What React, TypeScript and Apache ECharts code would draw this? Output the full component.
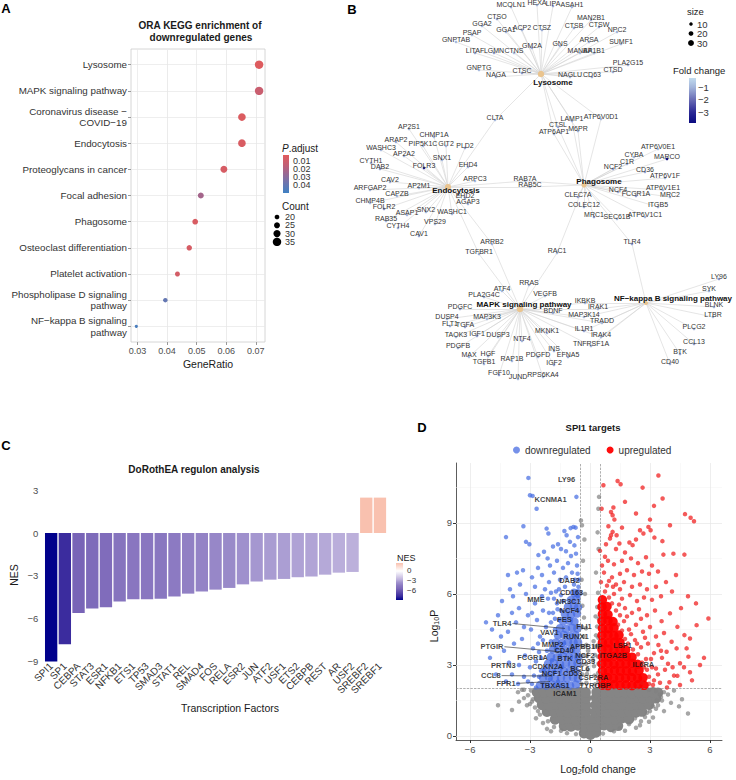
import React, { useEffect, useRef } from 'react';
import * as echarts from 'echarts';

const FONT = '"Liberation Sans", Arial, Helvetica, sans-serif';
const minus = (v: number) => (v < 0 ? '\u2212' + Math.abs(v) : String(v));

/* ---------------- A: KEGG over-representation of downregulated genes ---------------- */
const keggTerms = [
  'Lysosome',
  'MAPK signaling pathway',
  'Coronavirus disease \u2212\nCOVID\u221219',
  'Endocytosis',
  'Proteoglycans in cancer',
  'Focal adhesion',
  'Phagosome',
  'Osteoclast differentiation',
  'Platelet activation',
  'Phospholipase D signaling\npathway',
  'NF\u2212kappa B signaling\npathway',
];
const keggGeneRatio = [0.0711, 0.0711, 0.0653, 0.0653, 0.0592, 0.0514, 0.0495, 0.0475, 0.0435, 0.0394, 0.0296];
const keggCount = [35, 35, 32, 32, 29, 25, 24, 23, 21, 19, 14];
const keggPAdjust = [0.004, 0.012, 0.005, 0.006, 0.007, 0.023, 0.006, 0.007, 0.008, 0.04, 0.047];
const geneRatioTicks = [0.03, 0.04, 0.05, 0.06, 0.07];
const geneRatioMinor = [0.035, 0.045, 0.055, 0.065];
const padjTicks = [0.01, 0.02, 0.03, 0.04];
const countTicks = [20, 25, 30, 35];
const padjRange: [number, number] = [0.0025, 0.05];
const padjStops: [number, string][] = [
  [0.0025, '#E15B5B'], [0.015, '#C25F75'], [0.025, '#9C6790'], [0.035, '#7672A9'], [0.05, '#3F81C3'],
];

/* ---------------- B: gene-concept network ---------------- */
type GeneRow = [string, number, number, number]; // name, layout x, layout y, log2 fold change
const hubNames = ['Lysosome', 'Endocytosis', 'Phagosome', 'MAPK signaling pathway', 'NF\u2212kappa B signaling pathway'];
const hubTerm = [0, 3, 6, 1, 10];
const hubLayout: [number, number][] = [[541, 74], [448, 187], [584, 185], [520, 309], [646, 303]];
const hubLabelShift: [number, number][] = [[12, 8], [8, 3], [15, -4], [4, -5], [27, -5]];
const sizeTicks = [10, 20, 30];
const foldTicks = [-1, -2, -3];
const foldRange: [number, number] = [-0.28, -3.88];
const foldStops: [number, string][] = [
  [-3.88, '#0A0A80'], [-3, '#2C2A96'], [-2, '#6A6DB5'], [-1, '#A4B6DB'], [-0.28, '#C2DBEE'],
];

const lysosomeGenes: GeneRow[] = [
  ['MCOLN1', 511, 7, -1.1], ['HEXA', 537, 5, -1.0], ['LIPA', 553, 6, -1.2], ['ASAH1', 572, 7, -1.0],
  ['CTSO', 497, 19, -1.3], ['GGA2', 482, 26, -0.9], ['GGA1', 506, 32, -0.9], ['ACP2', 522, 30, -1.0],
  ['CTSZ', 542, 30, -1.1], ['CTSB', 574, 28, -1.2], ['MAN2B1', 591, 20, -1.0], ['CTSW', 599, 27, -1.3],
  ['NPC2', 617, 32, -1.0], ['PSAP', 472, 35, -0.9], ['GNPTAB', 456, 42, -0.9], ['ARSA', 589, 42, -1.0],
  ['SUMF1', 621, 44, -1.0], ['GNS', 560, 46, -1.0], ['GM2A', 532, 48, -1.1], ['LITAF', 475, 53, -1.2],
  ['LGMN', 494, 53, -1.3], ['CTNS', 514, 53, -0.9], ['MANBA', 580, 53, -0.9], ['AP1B1', 594, 53, -0.9],
  ['PLA2G15', 628, 65, -1.0], ['CTSD', 613, 72, -1.1], ['GNPTG', 479, 70, -0.9], ['NAGA', 496, 77, -1.0],
  ['CTSC', 522, 73, -1.4], ['NAGLU', 570, 77, -0.9], ['CD63', 592, 77, -1.1],
];
const endocytosisGenes: GeneRow[] = [
  ['AP2S1', 409, 129, -1.0], ['CHMP1A', 434, 137, -0.9], ['ARAP2', 396, 142, -1.1], ['PIP5K1C', 423, 146, -0.9],
  ['GIT2', 446, 146, -1.0], ['PLD2', 465, 148, -1.2], ['WASHC3', 381, 150, -0.9], ['AP2A2', 404, 156, -1.0],
  ['SNX1', 442, 160, -0.9], ['CYTH1', 371, 163, -1.1], ['FOLR3', 424, 168, -3.4], ['EHD4', 468, 167, -1.0],
  ['DAB2', 380, 169, -1.3], ['CAV2', 390, 182, -1.0], ['ARPC3', 475, 181, -0.9], ['AP2M1', 419, 188, -0.9],
  ['ARFGAP2', 370, 190, -0.9], ['CAPZB', 397, 196, -0.9], ['EHD2', 465, 198, -1.1], ['CHMP4B', 370, 203, -0.9],
  ['AGAP3', 468, 204, -1.0], ['FOLR2', 384, 209, -1.4], ['SNX2', 426, 212, -0.9], ['ASAP1', 407, 215, -1.0],
  ['WASHC1', 452, 214, -0.9], ['RAB35', 386, 221, -0.9], ['VPS29', 435, 224, -0.9], ['CYTH4', 398, 228, -1.1],
  ['CAV1', 419, 236, -1.2],
];
const phagosomeGenes: GeneRow[] = [
  ['ATP6V0E1', 658, 149, -0.9], ['CYBA', 634, 157, -1.0], ['MARCO', 667, 159, -3.7], ['C1R', 627, 164, -1.1],
  ['NCF2', 613, 169, -1.2], ['CD36', 645, 172, -1.2], ['ATP6V1F', 665, 178, -0.9], ['NCF4', 618, 192, -1.1],
  ['ATP6V1E1', 663, 190, -0.9], ['FCGR1A', 636, 196, -1.3], ['MRC2', 670, 197, -1.0], ['CLEC7A', 578, 197, -1.2],
  ['COLEC12', 584, 207, -1.1], ['ITGB5', 658, 207, -1.0], ['MRC1', 594, 217, -1.3], ['SEC61B', 617, 219, -0.9],
  ['ATP6V1C1', 645, 217, -0.9],
];
const mapkGenes: GeneRow[] = [
  ['RRAS', 529, 285, -1.0], ['ATF4', 502, 291, -0.9], ['VEGFB', 545, 296, -0.9], ['PLA2G4C', 484, 297, -1.1],
  ['PDGFC', 460, 309, -1.2], ['BDNF', 553, 313, -1.1], ['DUSP4', 447, 319, -1.0], ['MAP3K3', 487, 319, -0.9],
  ['FLT1', 450, 326, -1.1], ['TGFA', 465, 327, -1.2], ['TAOK3', 456, 337, -0.9], ['IGF1', 477, 336, -1.3],
  ['DUSP3', 498, 337, -0.9], ['MKNK1', 547, 333, -1.0], ['NTF4', 522, 341, -1.0], ['PDGFB', 458, 348, -1.1],
  ['INS', 554, 351, -1.0], ['MAX', 469, 357, -0.9], ['HGF', 488, 356, -1.2], ['RAP1B', 512, 361, -0.9],
  ['PDGFD', 538, 357, -1.1], ['EFNA5', 568, 357, -1.2], ['TGFB1', 484, 364, -1.0], ['IGF2', 554, 365, -1.1],
  ['FGF10', 499, 375, -1.3], ['JUND', 518, 379, -0.9], ['RPS6KA4', 543, 377, -0.9],
];
const nfkbGenes: GeneRow[] = [
  ['LY96', 719, 279, -1.4], ['SYK', 709, 291, -1.0], ['BLNK', 714, 307, -1.1], ['LTBR', 713, 317, -0.9],
  ['PLCG2', 694, 329, -1.0], ['CCL13', 694, 344, -1.3], ['BTK', 680, 354, -1.2], ['CD40', 670, 364, -1.1],
];
const lysoEndoGenes: GeneRow[] = [['CLTA', 495, 120, -0.9]];
const lysoPhagoGenes: GeneRow[] = [
  ['LAMP1', 572, 121, -1.0], ['ATP6V0D1', 601, 119, -0.9], ['CTSL', 558, 127, -1.2], ['M6PR', 578, 131, -1.0],
  ['ATP6AP1', 554, 134, -0.9],
];
const endoPhagoGenes: GeneRow[] = [['RAB7A', 525, 181, -0.9], ['RAB5C', 530, 187, -0.9]];
const endoMapkGenes: GeneRow[] = [['ARRB2', 492, 244, -1.0], ['TGFBR1', 479, 254, -1.1]];
const phagoMapkGenes: GeneRow[] = [['RAC1', 557, 253, -0.9]];
const phagoNfkbGenes: GeneRow[] = [['TLR4', 632, 244, -1.3]];
const mapkNfkbGenes: GeneRow[] = [
  ['IKBKB', 585, 303, -0.9], ['IRAK1', 598, 309, -1.0], ['MAP3K14', 584, 317, -0.9], ['TRADD', 602, 323, -0.9],
  ['IL1R1', 584, 331, -1.2], ['IRAK4', 601, 337, -1.0], ['TNFRSF1A', 591, 346, -1.0],
];

/* ---------------- C: DoRothEA regulon activity ---------------- */
const tfNames = [
  'SPI1', 'SP1', 'CEBPA', 'STAT3', 'ESR1', 'NFKB1', 'ETS1', 'TP53', 'SMAD3', 'STAT1', 'REL', 'SMAD4', 'FOS',
  'RELA', 'ESR2', 'JUN', 'ATF2', 'USF1', 'ETS2', 'CEBPB', 'REST', 'AR', 'USF2', 'SREBF2', 'SREBF1',
];
const tfNES = [
  -9.0, -7.8, -5.6, -5.3, -5.2, -4.8, -4.65, -4.65, -4.6, -4.45, -4.25, -4.1, -3.97, -3.85, -3.6, -3.4, -3.27,
  -3.22, -3.1, -3.05, -2.92, -2.78, -2.73, 2.48, 2.48,
];
const nesTicks = [0, -3, -6];
const nesRange: [number, number] = [2.48, -9];
const nesStops: [number, string][] = [
  [-9, '#00008B'], [-7.8, '#3B2C9E'], [-5.5, '#7B67B8'], [-4.5, '#8B79C1'], [-3.5, '#A193CE'],
  [-2.7, '#BDB1DC'], [0, '#FFFFFF'], [2.5, '#F9C0AE'],
];

/* ---------------- D: volcano of SPI1 targets ---------------- */
const fcCut = 0.5;
const pCut = 2;
const volcanoXTicks = [-6, -3, 0, 3, 6];
const volcanoXMinor = [-4.5, -1.5, 1.5, 4.5];
const volcanoYTicks = [0, 3, 6, 9];
const volcanoYMinor = [1.5, 4.5, 7.5, 10.5];

const greyCore: [number, number][] = [
  [-0.3, 0.12], [0.02, 0.05], [0.3, 0.15],
  [-1.3, 0.42], [-0.95, 0.4], [-0.6, 0.44], [-0.28, 0.38], [0.05, 0.42], [0.38, 0.4], [0.7, 0.45], [1.05, 0.38], [1.4, 0.43],
  [-1.75, 0.7], [-1.4, 0.7], [-1.05, 0.73], [-0.7, 0.68], [-0.38, 0.72], [-0.15, 0.7], [0.22, 0.74], [0.55, 0.69], [0.9, 0.72], [1.25, 0.7], [1.6, 0.75], [1.95, 0.71],
  [-2.15, 1.02], [-1.8, 1.0], [-1.45, 1.03], [-1.1, 0.98], [-0.75, 1.02], [-0.42, 0.99], [-0.18, 1.04], [0.25, 1.0], [0.55, 1.03], [0.9, 0.98], [1.25, 1.02], [1.6, 1.0], [1.95, 1.04], [2.3, 0.99], [2.6, 1.03],
  [-2.4, 1.31], [-2.05, 1.3], [-1.7, 1.33], [-1.35, 1.28], [-1.0, 1.32], [-0.65, 1.29], [-0.38, 1.33], [-0.2, 1.3], [0.28, 1.31], [0.6, 1.28], [0.95, 1.33], [1.3, 1.3], [1.65, 1.32], [2.0, 1.28], [2.3, 1.33], [2.65, 1.3], [2.95, 1.32],
  [-2.55, 1.61], [-2.2, 1.6], [-1.85, 1.63], [-1.5, 1.58], [-1.15, 1.62], [-0.8, 1.59], [-0.45, 1.63], [-0.2, 1.6], [0.3, 1.61], [0.65, 1.58], [1.0, 1.63], [1.35, 1.6], [1.7, 1.62], [2.05, 1.58], [2.4, 1.63], [2.65, 1.6], [3.0, 1.62], [3.3, 1.59],
  [-2.65, 1.84], [-2.3, 1.84], [-1.95, 1.86], [-1.6, 1.82], [-1.25, 1.85], [-0.9, 1.83], [-0.55, 1.86], [-0.22, 1.84], [0.33, 1.85], [0.7, 1.83], [1.05, 1.86], [1.4, 1.84], [1.75, 1.85], [2.1, 1.82], [2.45, 1.86], [2.8, 1.84], [3.15, 1.85], [3.4, 1.83],
];
const greySparse: [number, number][] = [
  [-2.95, 1.92], [-2.85, 1.55], [-2.75, 1.2], [-2.5, 0.9], [-2.1, 0.62], [-1.8, 0.38], [-1.45, 0.22], [-1.15, 0.12],
  [-0.7, 0.08], [0.65, 0.1], [1.2, 0.2], [1.5, 0.32], [1.95, 0.5], [2.25, 0.75], [2.85, 0.98], [3.15, 1.25],
  [3.35, 1.5], [3.7, 1.85], [3.55, 1.65], [3.4, 1.3], [3.0, 1.05], [2.75, 0.8], [-3.1, 1.72], [-3.3, 1.95],
  [-3.0, 1.35], [-2.6, 1.05], [-3.3, 1.6], [-3.6, 1.85], [-4.6, 1.3], [-3.9, 1.1], [3.6, 1.5], [3.9, 1.75],
  [4.2, 1.92], [4.6, 1.55], [4.45, 1.25], [4.9, 0.95], [3.3, 1.15], [3.15, 0.78], [3.7, 1.05], [-2.15, 0.3],
  [2.5, 0.45], [-3.15, 1.3], [2.3, 0.35], [-1.95, 0.2], [1.75, 0.22], [3.5, 1.75], [-3.4, 1.95], [2.95, 1.95],
  [3.3, 1.9], [-2.9, 1.45], [-2.35, 0.55], [2.55, 0.62], [-2.7, 0.75], [2.95, 0.6], [4.05, 1.4], [-3.55, 1.45],
  [-0.42, 2.2], [-0.18, 2.25], [0.25, 2.18], [0.42, 2.3], [-0.38, 2.6], [-0.15, 2.62], [0.22, 2.55], [0.4, 2.65],
  [-0.4, 3.0], [-0.2, 3.05], [0.2, 2.95], [0.42, 3.05], [-0.35, 3.4], [-0.15, 3.38], [0.25, 3.42], [0.4, 3.35],
  [-0.4, 3.8], [-0.18, 3.85], [0.22, 3.78], [0.38, 3.82], [-0.32, 4.2], [0.3, 4.25], [0.42, 4.15], [-0.4, 4.6],
  [-0.2, 4.55], [0.35, 4.62], [-0.3, 5.0], [0.28, 5.05], [0.44, 4.95], [-0.38, 5.5], [0.36, 5.45], [-0.25, 6.0],
  [0.4, 6.05], [-0.42, 6.6], [0.3, 6.9], [-0.35, 7.4], [0.43, 7.9], [-0.28, 8.3], [0.38, 8.6], [-0.45, 9.1],
  [0.45, 10.1], [0.42, 9.6], [-0.4, 8.9], [-0.12, 2.8], [0.15, 3.2], [-0.1, 3.6], [0.18, 4.0],
];
const blueCore: [number, number][] = [
  [-2.5, 2.15], [-2.2, 2.13], [-1.9, 2.17], [-1.6, 2.14], [-1.3, 2.16], [-1.0, 2.13], [-0.7, 2.17],
  [-2.35, 2.45], [-2.05, 2.47], [-1.75, 2.43], [-1.45, 2.46], [-1.15, 2.44], [-0.85, 2.47], [-0.6, 2.43],
  [-2.2, 2.75], [-1.9, 2.73], [-1.6, 2.77], [-1.3, 2.74], [-1.0, 2.76], [-0.72, 2.73],
  [-2.1, 3.05], [-1.8, 3.07], [-1.5, 3.03], [-1.2, 3.06], [-0.9, 3.04], [-0.62, 3.07],
  [-1.95, 3.35], [-1.65, 3.33], [-1.35, 3.37], [-1.05, 3.34], [-0.78, 3.36], [-0.58, 3.33],
  [-1.85, 3.65], [-1.55, 3.67], [-1.25, 3.63], [-0.95, 3.66], [-0.68, 3.64],
  [-1.7, 3.95], [-1.4, 3.93], [-1.1, 3.97], [-0.82, 3.94], [-0.6, 3.96],
  [-1.6, 4.25], [-1.3, 4.27], [-1.0, 4.23], [-0.72, 4.26],
  [-1.5, 4.55], [-1.2, 4.53], [-0.9, 4.57], [-0.63, 4.54],
  [-1.35, 4.85], [-1.05, 4.87], [-0.78, 4.83],
  [-1.25, 5.15], [-0.95, 5.13], [-0.65, 5.17],
  [-1.1, 5.45], [-0.8, 5.47], [-0.6, 5.43],
  [-0.95, 5.75], [-0.68, 5.77], [-0.8, 6.05], [-0.6, 6.03],
];
const blueSparse: [number, number][] = [
  [-3.08, 10.9], [-3.0, 10.17], [-2.87, 10.14], [-2.67, 9.6], [-0.68, 10.1], [-3.33, 8.86], [-4.2, 8.4],
  [-3.2, 8.2], [-3.03, 8.1], [-2.17, 8.76], [-2.08, 8.55], [-1.28, 8.66], [-1.17, 8.48], [-0.97, 8.78],
  [-0.83, 8.83], [-0.72, 8.8], [-2.58, 7.64], [-2.3, 7.78], [-2.12, 7.5], [-1.6, 8.1], [-1.45, 7.9],
  [-1.85, 8.0], [-1.0, 8.2], [-0.78, 8.05], [-0.6, 8.4],
  [-4.1, 6.8], [-3.65, 6.9], [-4.0, 6.2], [-3.85, 5.9], [-3.5, 6.4], [-3.2, 6.0], [-3.35, 7.0], [-2.9, 6.7],
  [-2.75, 6.3], [-2.6, 7.1], [-2.4, 6.8], [-2.25, 6.2], [-2.0, 7.2], [-1.8, 6.9], [-1.65, 7.4], [-1.5, 6.6],
  [-1.35, 7.1], [-1.1, 7.3], [-0.9, 6.9], [-0.65, 7.2], [-0.55, 6.6], [-1.25, 6.3], [-0.8, 6.4], [-2.05, 6.5],
  [-1.7, 6.1], [-0.95, 7.6], [-0.7, 7.7], [-1.2, 7.8],
  [-5.2, 4.8], [-4.9, 4.5], [-4.6, 5.1], [-4.45, 4.2], [-5.0, 3.3], [-4.3, 3.6], [-4.7, 2.6], [-4.05, 3.1],
  [-3.9, 2.6], [-3.7, 4.8], [-3.55, 5.4], [-3.4, 4.1], [-3.25, 3.4], [-3.1, 5.1], [-3.0, 2.9], [-2.95, 4.5],
  [-2.85, 3.7], [-2.75, 5.6], [-2.65, 4.9], [-2.55, 2.5], [-2.5, 4.2], [-2.45, 3.3], [-2.35, 5.3], [-2.3, 2.8],
  [-2.2, 4.6], [-2.15, 3.6], [-2.1, 5.8], [-2.0, 2.4], [-1.95, 4.0], [-1.9, 3.2], [-1.85, 5.2], [-1.8, 2.7],
  [-1.75, 4.5], [-1.7, 3.7], [-1.65, 5.6], [-1.6, 2.3], [-1.55, 4.9], [-1.5, 3.4], [-1.45, 5.3], [-1.4, 2.9],
  [-1.35, 5.7], [-1.3, 3.9], [-3.6, 2.2], [-3.3, 2.5], [-2.9, 2.2], [-2.7, 2.05], [-3.8, 3.9], [-4.2, 2.3],
  [-4.4, 5.7], [-3.9, 5.2], [-0.58, 6.3], [-0.62, 5.9],
  [-2.6, 3.9], [-2.35, 4.05], [-2.7, 3.15], [-2.8, 2.55], [-3.1, 2.3], [-2.45, 2.75], [-2.55, 3.55],
  [-1.95, 4.8], [-2.05, 5.2], [-1.8, 5.8], [-1.55, 6.2], [-1.45, 5.95], [-1.2, 6.7], [-0.75, 6.6],
  [-0.62, 6.85], [-1.95, 6.05], [-2.4, 5.9], [-2.9, 5.2], [-3.3, 4.6], [-3.55, 3.0], [-4.1, 4.4],
  [-1.62, 5.35], [-1.75, 4.95],
];
const redCore: [number, number][] = [
  [0.62, 2.15], [0.9, 2.13], [1.2, 2.17], [1.5, 2.14], [1.8, 2.16], [2.1, 2.13], [2.4, 2.17], [2.7, 2.14],
  [0.6, 2.45], [0.88, 2.47], [1.18, 2.43], [1.48, 2.46], [1.78, 2.44], [2.08, 2.47], [2.38, 2.43], [2.65, 2.46],
  [0.62, 2.75], [0.92, 2.73], [1.22, 2.77], [1.52, 2.74], [1.82, 2.76], [2.12, 2.73], [2.45, 2.77],
  [0.6, 3.05], [0.9, 3.07], [1.2, 3.03], [1.5, 3.06], [1.8, 3.04], [2.1, 3.07], [2.38, 3.03],
  [0.62, 3.35], [0.92, 3.33], [1.22, 3.37], [1.52, 3.34], [1.82, 3.36], [2.1, 3.33],
  [0.6, 3.65], [0.9, 3.67], [1.2, 3.63], [1.5, 3.66], [1.78, 3.64],
  [0.62, 3.95], [0.92, 3.93], [1.22, 3.97], [1.5, 3.94],
  [0.6, 4.25], [0.9, 4.27], [1.2, 4.23], [1.45, 4.26],
  [0.62, 4.55], [0.92, 4.53], [1.2, 4.57],
  [0.6, 4.85], [0.9, 4.87], [1.15, 4.83],
  [0.62, 5.15], [0.9, 5.13], [0.6, 5.45], [0.85, 5.47], [0.62, 5.75],
];
const redSparse: [number, number][] = [
  [3.42, 11.0], [0.67, 10.59], [1.38, 10.77], [1.53, 10.63], [2.63, 10.49], [3.63, 10.03], [1.75, 9.89],
  [0.58, 9.6], [3.2, 9.72], [1.17, 9.65], [1.05, 9.46], [1.13, 9.32], [1.22, 9.14], [4.75, 9.37], [5.03, 9.22],
  [5.2, 9.07], [3.0, 9.14], [0.92, 8.86], [2.92, 8.83], [3.03, 8.69], [2.5, 8.69], [2.67, 8.55], [1.13, 8.62],
  [1.05, 8.48], [1.33, 8.48], [1.0, 8.34], [3.22, 8.38], [3.62, 8.23], [1.47, 8.13], [1.97, 8.17], [2.13, 8.06],
  [4.17, 7.7], [4.72, 7.66], [3.67, 7.66], [0.75, 7.57], [0.5, 7.82],
  [1.3, 7.9], [1.75, 7.75], [0.9, 7.4], [1.2, 7.25], [1.6, 7.4], [2.05, 7.5], [2.4, 7.3], [2.8, 7.55], [3.1, 7.2],
  [3.4, 6.95], [2.95, 6.85], [2.6, 6.95], [2.2, 6.8], [1.85, 7.0], [1.5, 6.85], [1.1, 6.7], [0.7, 6.9],
  [0.55, 6.5], [0.85, 6.35], [1.3, 6.4], [1.7, 6.5], [2.1, 6.3], [2.5, 6.4], [2.85, 6.2], [3.3, 6.3], [3.8, 6.5],
  [4.1, 6.1], [3.55, 5.9], [3.1, 5.75], [2.7, 5.85], [2.35, 5.7], [2.0, 5.95], [1.6, 5.8], [1.2, 6.0], [0.95, 5.85],
  [4.55, 5.4], [4.0, 5.18], [3.58, 4.85], [4.72, 4.26], [4.37, 4.61], [5.33, 4.68], [5.92, 4.96], [5.0, 4.12],
  [5.7, 3.3], [4.92, 3.35], [4.5, 3.07], [5.0, 2.69], [4.37, 2.54], [4.5, 2.15], [3.97, 2.27], [4.13, 2.9],
  [4.33, 3.7], [3.83, 3.56], [3.42, 3.84], [4.08, 3.98], [4.83, 3.7], [3.25, 5.3], [2.85, 5.1], [2.45, 5.35],
  [2.1, 5.2], [1.75, 5.4], [1.5, 5.1], [3.0, 4.6], [2.65, 4.4], [2.3, 4.7], [1.95, 4.5], [1.7, 4.85], [3.3, 4.2],
  [2.9, 3.9], [2.55, 3.75], [2.25, 4.05], [3.6, 3.3], [3.2, 3.5], [2.8, 3.25], [3.75, 2.8], [3.4, 2.6], [3.1, 2.9],
  [3.5, 2.25], [3.15, 2.15], [2.95, 2.5], [3.85, 2.05],
  [1.9, 3.9], [2.15, 3.65], [2.4, 3.45], [2.6, 3.1], [2.85, 2.8], [2.95, 2.2], [2.7, 2.9], [2.35, 3.9],
  [2.05, 4.3], [1.75, 4.1], [1.6, 4.45], [1.4, 4.7], [1.3, 5.3], [1.1, 5.6], [1.45, 5.55], [1.85, 5.05],
  [2.55, 4.95], [2.75, 4.15], [3.05, 3.25], [3.3, 2.85], [3.55, 3.6], [3.9, 3.05], [4.2, 2.55], [3.7, 4.35],
  [1.15, 6.3], [0.75, 6.1], [0.95, 6.55], [1.5, 6.2], [0.6, 7.2], [0.8, 8.1], [1.6, 8.8], [2.3, 8.3],
  [2.3, 9.4], [4.0, 8.9], [4.3, 6.8], [4.9, 5.9], [5.3, 5.6], [5.5, 3.0], [5.1, 2.35], [4.7, 2.9],
  [3.2, 2.35], [2.6, 2.25],
];
// gene, point x, point y, label x, label y, label side ('c' centred on anchor, 'l' ending at anchor)
const spi1Labels: [string, number, number, number, number, string][] = [
  ['LY96', -1.55, 10.72, -1.17, 10.84, 'c'], ['KCNMA1', -2.0, 9.9, -1.97, 9.99, 'c'],
  ['DAB2', -1.1, 6.5, -1.03, 6.58, 'c'], ['CD163', -0.95, 5.95, -0.92, 6.05, 'c'],
  ['MME', -2.3, 5.65, -2.7, 5.77, 'c'], ['NR3C1', -1.0, 5.6, -1.08, 5.7, 'c'],
  ['NCF4', -0.95, 5.2, -1.03, 5.29, 'c'], ['FES', -1.2, 4.85, -1.28, 4.91, 'c'],
  ['TLR4', -1.25, 4.54, -3.88, 4.75, 'l'], ['FLI1', -0.6, 4.6, -0.3, 4.64, 'c'],
  ['VAV1', -2.0, 4.3, -2.03, 4.37, 'c'], ['RUNX1', -0.75, 4.1, -0.7, 4.19, 'c'],
  ['MMP2', -1.85, 3.8, -1.87, 3.87, 'c'], ['APBB1IP', -0.6, 3.75, -0.2, 3.8, 'c'],
  ['LSP1', 1.55, 3.75, 1.63, 3.84, 'c'], ['PTGIR', -1.4, 3.55, -4.28, 3.77, 'l'],
  ['CD40', -1.3, 3.55, -1.3, 3.62, 'c'], ['NCF2', -0.6, 3.35, -0.25, 3.4, 'c'],
  ['ITGA2B', 1.0, 3.3, 1.17, 3.39, 'c'], ['FCGR1A', -2.3, 3.25, -2.87, 3.3, 'c'],
  ['BTK', -1.25, 3.2, -1.25, 3.28, 'c'], ['CD33', -0.6, 3.1, -0.22, 3.15, 'c'],
  ['IL6RA', 2.6, 2.95, 2.67, 3.0, 'c'], ['PRTN3', -3.95, 2.83, -4.33, 2.97, 'c'],
  ['CDKN2A', -2.1, 2.85, -2.12, 2.92, 'c'], ['BCL6', -0.6, 2.8, -0.5, 2.87, 'c'],
  ['NCF1', -1.9, 2.6, -1.92, 2.64, 'c'], ['CD53', -0.9, 2.55, -0.87, 2.62, 'c'],
  ['CCL8', -1.9, 2.53, -4.42, 2.55, 'l'], ['CSF2RA', -0.6, 2.45, 0.17, 2.48, 'c'],
  ['FPR1', -2.0, 2.3, -3.67, 2.22, 'l'], ['TBXAS1', -1.7, 2.1, -1.75, 2.15, 'c'],
  ['TYROBP', -0.6, 2.1, 0.25, 2.12, 'c'], ['ICAM1', -1.2, 2.05, -1.25, 1.8, 'c'],
];

/* ---------------- helpers ---------------- */
function hexRgb(h: string) {
  const n = parseInt(h.slice(1), 16);
  return [(n >> 16) & 255, (n >> 8) & 255, n & 255];
}
function ramp(stops: [number, string][], v: number) {
  if (v <= stops[0][0]) return stops[0][1];
  for (let i = 1; i < stops.length; i++) {
    if (v <= stops[i][0]) {
      const [a, ca] = stops[i - 1];
      const [b, cb] = stops[i];
      const t = (v - a) / (b - a);
      const A = hexRgb(ca);
      const B = hexRgb(cb);
      return 'rgb(' + A.map((c, k) => Math.round(c + (B[k] - c) * t)).join(',') + ')';
    }
  }
  return stops[stops.length - 1][1];
}
// vertical colour bar: offset 0 at the `top` value, 1 at the `bottom` value
function barGradient(stops: [number, string][], top: number, bottom: number) {
  const colorStops = stops
    .map(([v, c]) => ({ offset: (v - top) / (bottom - top), color: c }))
    .filter((s) => s.offset >= -0.001 && s.offset <= 1.001)
    .sort((a, b) => a.offset - b.offset);
  colorStops.unshift({ offset: 0, color: ramp(stops, top) });
  colorStops.push({ offset: 1, color: ramp(stops, bottom) });
  return { type: 'linear', x: 0, y: 0, x2: 0, y2: 1, colorStops };
}
const countSize = (c: number) => 3.2 + (c - 14) * 0.25;
const hubSize = (c: number) => 2.3 + c * 0.12;

function text(x: number, y: number, t: string, o: any = {}) {
  const align = o.align || 'left';
  return {
    type: 'text', x, y, silent: true, rotation: o.rotation || 0,
    style: {
      text: t, fill: o.color || '#1a1a1a', fontSize: o.size || 10, fontWeight: o.weight || 'normal',
      fontFamily: FONT, align, textAlign: align, verticalAlign: 'middle', textVerticalAlign: 'middle',
      rich: o.rich,
    },
  };
}

function buildOption() {
  /* network nodes and links */
  const geneSets: [GeneRow[], number[]][] = [
    [lysosomeGenes, [0]], [endocytosisGenes, [1]], [phagosomeGenes, [2]], [mapkGenes, [3]], [nfkbGenes, [4]],
    [lysoEndoGenes, [0, 1]], [lysoPhagoGenes, [0, 2]], [endoPhagoGenes, [1, 2]], [endoMapkGenes, [1, 3]],
    [phagoMapkGenes, [2, 3]], [phagoNfkbGenes, [2, 4]], [mapkNfkbGenes, [3, 4]],
  ];
  const nodes: any[] = [];
  const links: any[] = [];
  hubNames.forEach((name, i) => {
    nodes.push({
      name, value: hubLayout[i], symbolSize: hubSize(keggCount[hubTerm[i]]),
      itemStyle: { color: '#EAC48E' },
      label: { offset: hubLabelShift[i], fontSize: 8, fontWeight: 'bold', color: '#111' },
    });
  });
  geneSets.forEach(([rows, hubs]) => {
    rows.forEach(([name, x, y, fc]) => {
      nodes.push({ name, value: [x, y], symbolSize: 2.6, itemStyle: { color: ramp(foldStops, fc) } });
      hubs.forEach((h) => links.push({ source: hubNames[h], target: name }));
    });
  });

  const gridLine = (axis: 'xAxis' | 'yAxis', v: number, minor: boolean) => ({
    [axis]: v,
    lineStyle: { color: minor ? '#f3f3f3' : '#e6e6e6', width: minor ? 0.5 : 0.7, type: 'solid' },
  });

  const axisText = { fontFamily: FONT, color: '#4d4d4d' };
  const hidden = { show: false };
  const subRich = {
    a: { fontSize: 10.5, lineHeight: 12, fontFamily: FONT, fill: '#1a1a1a' },
    b: { fontSize: 7, lineHeight: 8, verticalAlign: 'bottom', fontFamily: FONT, fill: '#1a1a1a' },
  };
  const dots = (color: string) => ({ color, opacity: 1 });

  const graphic: any[] = [
    // panel letters
    text(6, 8, 'A', { size: 13, weight: 'bold', align: 'center', color: '#000' }),
    text(352, 9, 'B', { size: 13, weight: 'bold', align: 'center', color: '#000' }),
    text(6, 445, 'C', { size: 13, weight: 'bold', align: 'center', color: '#000' }),
    text(422, 427, 'D', { size: 13, weight: 'bold', align: 'center', color: '#000' }),
    // titles
    text(200, 25, 'ORA KEGG enrichment of', { size: 10, weight: 'bold', align: 'center' }),
    text(201, 37, 'downregulated genes', { size: 10, weight: 'bold', align: 'center' }),
    text(194, 469, 'DoRothEA regulon analysis', { size: 10, weight: 'bold', align: 'center' }),
    text(593, 427, 'SPI1 targets', { size: 9.5, weight: 'bold', align: 'center' }),
    // axis titles
    text(208, 364, 'GeneRatio', { size: 10.5, align: 'center' }),
    text(230, 708, 'Transcription Factors', { size: 10.5, align: 'center' }),
    text(14, 575, 'NES', { size: 10.5, align: 'center', rotation: Math.PI / 2 }),
    text(598, 769, '{a|Log}{b|2}{a|fold change}', { align: 'center', rich: subRich }),
    text(434, 626, '{a|Log}{b|10}{a|P}', { align: 'center', rotation: Math.PI / 2, rich: subRich }),
    // A legend: p.adjust colour bar
    text(282, 148, '{i|P}{n|.adjust}', {
      rich: { i: { fontStyle: 'italic', fontSize: 10, fontFamily: FONT, fill: '#1a1a1a' }, n: { fontSize: 10, fontFamily: FONT, fill: '#1a1a1a' } },
    }),
    { type: 'rect', silent: true, shape: { x: 283, y: 155, width: 6, height: 38 }, style: { fill: barGradient(padjStops, padjRange[0], padjRange[1]) } },
    ...padjTicks.map((p) => text(293, 155 + ((p - padjRange[0]) / (padjRange[1] - padjRange[0])) * 38, p.toFixed(2), { size: 9, color: '#333' })),
    text(282, 206, 'Count', { size: 10 }),
    ...countTicks.flatMap((c, i) => [
      { type: 'circle', silent: true, shape: { cx: 277, cy: 217 + i * 8.3, r: countSize(c) / 2 }, style: { fill: '#000' } },
      text(285, 217 + i * 8.3, String(c), { size: 9, color: '#333' }),
    ]),
    // B legend: hub size and fold change
    text(687, 11, 'size', { size: 9.5 }),
    ...sizeTicks.flatMap((s, i) => [
      { type: 'circle', silent: true, shape: { cx: 691, cy: 24 + i * 9.5, r: hubSize(s) / 2 }, style: { fill: '#000' } },
      text(697, 24 + i * 9.5, String(s), { size: 9.5, color: '#333' }),
    ]),
    text(673, 70, 'Fold change', { size: 9.5 }),
    { type: 'rect', silent: true, shape: { x: 689, y: 78, width: 7, height: 45 }, style: { fill: barGradient(foldStops, foldRange[0], foldRange[1]) } },
    ...foldTicks.map((v) => text(698, 78 + ((foldRange[0] - v) / (foldRange[0] - foldRange[1])) * 45, minus(v), { size: 9.5, color: '#333' })),
    // C legend: NES colour bar
    text(397, 558, 'NES', { size: 9 }),
    { type: 'rect', silent: true, shape: { x: 396, y: 563, width: 7, height: 37 }, style: { fill: barGradient(nesStops, nesRange[0], nesRange[1]) } },
    ...nesTicks.map((v) => text(407, 563 + ((nesRange[0] - v) / (nesRange[0] - nesRange[1])) * 37, minus(v), { size: 8, color: '#333' })),
  ];

  return {
    animation: false,
    textStyle: { fontFamily: FONT },
    legend: {
      data: [{ name: 'downregulated', icon: 'circle' }, { name: 'upregulated', icon: 'circle' }],
      left: 508, top: 440, itemWidth: 7, itemHeight: 7, itemGap: 16, selectedMode: false,
      textStyle: { fontSize: 10, color: '#333', fontFamily: FONT },
    },
    grid: [
      { left: 131, top: 49, width: 134, height: 293, show: true, borderColor: '#cccccc', borderWidth: 0.8, backgroundColor: 'transparent', outerBoundsMode: 'none' },
      { left: 44.3, top: 490.2, width: 342.5, height: 171.2, outerBoundsMode: 'none' },
      { left: 456, top: 463, width: 266, height: 277, outerBoundsMode: 'none' },
      { left: 0, top: 0, width: 736, height: 780, outerBoundsMode: 'none' },
    ],
    xAxis: [
      {
        gridIndex: 0, type: 'value', min: 0.0278, max: 0.0731,
        axisLine: { show: false, onZero: false }, splitLine: hidden,
        axisTick: { show: true, customValues: geneRatioTicks, length: 3, lineStyle: { color: '#999' } },
        axisLabel: { customValues: geneRatioTicks, formatter: (v: number) => v.toFixed(2), fontSize: 9, margin: 4, ...axisText },
      },
      {
        gridIndex: 1, type: 'category', data: tfNames,
        axisLine: { show: false, onZero: false }, axisTick: hidden, splitLine: hidden,
        axisLabel: { interval: 0, rotate: 45, fontSize: 10, margin: 3, ...axisText, color: '#333' },
      },
      {
        gridIndex: 2, type: 'value', min: -6.7, max: 6.6,
        axisLine: { show: true, onZero: false, lineStyle: { color: '#333', width: 0.8 } }, splitLine: hidden,
        axisTick: { show: true, customValues: volcanoXTicks, length: 3, lineStyle: { color: '#333' } },
        axisLabel: { customValues: volcanoXTicks, formatter: minus, fontSize: 9.5, margin: 4, ...axisText },
      },
      { gridIndex: 3, type: 'value', min: 0, max: 736, show: false },
    ],
    yAxis: [
      {
        gridIndex: 0, type: 'value', inverse: true, min: -0.6, max: 10.6,
        axisLine: { show: false, onZero: false }, splitLine: hidden,
        axisTick: { show: true, customValues: keggTerms.map((_, i) => i), length: 3, lineStyle: { color: '#999' } },
        axisLabel: {
          customValues: keggTerms.map((_, i) => i), formatter: (v: number) => keggTerms[Math.round(v)],
          fontSize: 9.8, lineHeight: 11.5, margin: 4, ...axisText, color: '#333',
        },
      },
      {
        gridIndex: 1, type: 'value', min: -9, max: 3, interval: 3,
        axisLine: { show: false }, axisTick: hidden, splitLine: hidden,
        axisLabel: { formatter: minus, fontSize: 9.5, margin: 6, ...axisText },
      },
      {
        gridIndex: 2, type: 'value', min: -0.17, max: 11.53,
        axisLine: { show: true, onZero: false, lineStyle: { color: '#333', width: 0.8 } }, splitLine: hidden,
        axisTick: { show: true, customValues: volcanoYTicks, length: 3, lineStyle: { color: '#333' } },
        axisLabel: { customValues: volcanoYTicks, formatter: minus, fontSize: 9.5, margin: 4, ...axisText },
      },
      { gridIndex: 3, type: 'value', min: 0, max: 780, inverse: true, show: false },
    ],
    series: [
      // A: enrichment dot plot
      {
        type: 'scatter', xAxisIndex: 0, yAxisIndex: 0, silent: true, z: 3,
        data: keggGeneRatio.map((r, i) => ({
          value: [r, i], symbolSize: countSize(keggCount[i]), itemStyle: { color: ramp(padjStops, keggPAdjust[i]), opacity: 1 },
        })),
        markLine: {
          silent: true, symbol: 'none', z: 1, label: { show: false },
          data: [
            ...geneRatioMinor.map((v) => gridLine('xAxis', v, true)),
            ...geneRatioTicks.map((v) => gridLine('xAxis', v, false)),
            ...keggTerms.map((_, i) => gridLine('yAxis', i, false)),
          ],
        },
      },
      // B: gene-concept network
      {
        type: 'graph', layout: 'none', coordinateSystem: 'cartesian2d', xAxisIndex: 3, yAxisIndex: 3,
        silent: true, z: 3, emphasis: { disabled: true },
        data: nodes, links,
        lineStyle: { color: '#d3d3d3', width: 0.6, opacity: 1, curveness: 0 },
        label: { show: true, position: 'inside', offset: [0, -3], fontSize: 7, color: '#333', fontFamily: FONT },
      },
      // C: regulon NES bars
      {
        type: 'bar', xAxisIndex: 1, yAxisIndex: 1, silent: true, barWidth: '90%',
        data: tfNES.map((v) => ({ value: v, itemStyle: { color: ramp(nesStops, v) } })),
      },
      // D: volcano
      {
        type: 'scatter', xAxisIndex: 2, yAxisIndex: 2, silent: true, z: 2, symbolSize: 10.5,
        itemStyle: dots('#858585'), data: greyCore,
        markLine: {
          silent: true, symbol: 'none', z: 1, label: { show: false },
          data: [
            ...volcanoXMinor.map((v) => gridLine('xAxis', v, true)),
            ...volcanoYMinor.map((v) => gridLine('yAxis', v, true)),
            ...volcanoXTicks.map((v) => gridLine('xAxis', v, false)),
            ...volcanoYTicks.map((v) => gridLine('yAxis', v, false)),
          ],
        },
      },
      {
        type: 'scatter', xAxisIndex: 2, yAxisIndex: 2, silent: true, z: 2, symbolSize: 4.5,
        itemStyle: dots('rgba(128,128,128,0.7)'), data: greySparse,
      },
      {
        name: 'downregulated', type: 'scatter', xAxisIndex: 2, yAxisIndex: 2, silent: true, z: 2, symbolSize: 8.5,
        itemStyle: dots('rgba(72,108,226,0.75)'), data: blueCore,
      },
      {
        name: 'downregulated', type: 'scatter', xAxisIndex: 2, yAxisIndex: 2, silent: true, z: 2, symbolSize: 4.5,
        itemStyle: dots('rgba(65,105,225,0.7)'), data: blueSparse,
      },
      {
        name: 'upregulated', type: 'scatter', xAxisIndex: 2, yAxisIndex: 2, silent: true, z: 2, symbolSize: 9.5,
        itemStyle: dots('rgba(255,0,0,0.95)'), data: redCore,
      },
      {
        name: 'upregulated', type: 'scatter', xAxisIndex: 2, yAxisIndex: 2, silent: true, z: 2, symbolSize: 4.5,
        itemStyle: dots('rgba(240,20,20,0.7)'), data: redSparse,
      },
      {
        type: 'lines', coordinateSystem: 'cartesian2d', xAxisIndex: 2, yAxisIndex: 2, silent: true, z: 5,
        lineStyle: { color: '#222', width: 0.6, opacity: 1 },
        data: spi1Labels.filter((r) => r[5] === 'l').map((r) => ({ coords: [[r[3], r[4]], [r[1], r[2]]] })),
      },
      {
        type: 'scatter', xAxisIndex: 2, yAxisIndex: 2, silent: true, z: 6, symbolSize: 0.01,
        itemStyle: { color: 'rgba(0,0,0,0)' },
        label: { show: true, formatter: '{b}', fontSize: 7.5, fontWeight: 'bold', color: '#111', fontFamily: FONT },
        data: spi1Labels.map(([name, , , lx, ly, side]) => ({
          name, value: [lx, ly],
          label: side === 'l' ? { position: 'left', distance: 1 } : { position: 'inside' },
        })),
        markLine: {
          silent: true, symbol: 'none', z: 4, label: { show: false },
          lineStyle: { type: 'dashed', color: '#7a7a7a', width: 0.6 },
          data: [{ xAxis: -fcCut }, { xAxis: fcCut }, { yAxis: pCut }],
        },
      },
    ],
    graphic,
  };
}

export default function App() {
  const ref = useRef<HTMLDivElement>(null);
  useEffect(() => {
    document.body.style.margin = '0';
    const chart = echarts.init(ref.current as HTMLDivElement, null, { renderer: 'svg' });
    chart.setOption(buildOption() as any);
    return () => chart.dispose();
  }, []);
  return <div ref={ref} style={{ width: 736, height: 780, background: '#fff' }} />;
}
